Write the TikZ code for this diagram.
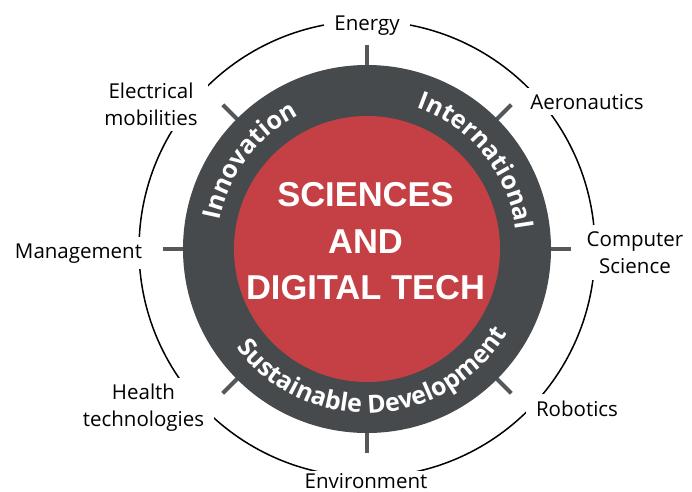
\documentclass[tikz,border=0pt]{standalone}
\usepackage{fontspec}
\setmainfont{Open Sans}
\newfontfamily\titlefont{Liberation Sans}
\usetikzlibrary{decorations.text}
\definecolor{ringgray}{RGB}{70,74,76}
\definecolor{tickgray}{RGB}{85,88,90}
\definecolor{corered}{RGB}{197,64,68}
\newcommand\ringtxt{\bfseries\fontsize{25pt}{25pt}\selectfont}
\begin{document}
\begin{tikzpicture}[x=1pt,y=1pt,
  topic/.style={fill=white, inner xsep=10pt, inner ysep=6pt, align=center,
    font=\fontsize{20.5pt}{27pt}\selectfont, text=black},
  tickline/.style={tickgray, line width=4pt},
  ringlabel/.style={decorate, decoration={text along path, text align=center, text color=white}}
]
\fill[white] (-367,-242) rectangle (325,249);
\useasboundingbox (-367,-242) rectangle (325,249);
\draw[black, line width=1.5pt] (0,0) circle[radius=228pt];
\foreach \a in {0,45,...,315} \draw[tickline] (\a:183pt) -- (\a:204pt);
\fill[ringgray] (0,0) circle[radius=184pt];
\fill[corered] (0,0) circle[radius=133pt];
\node[font=\titlefont\bfseries\fontsize{34.5pt}{46.5pt}\selectfont, text=white, align=center] (title) at (-1.5,7.5) {SCIENCES\\AND\\DIGITAL TECH};
\path[ringlabel, decoration={text={|\ringtxt|Innovation}}] (185:150pt) arc[start angle=185, end angle=101, radius=150pt];
\path[ringlabel, decoration={text={|\ringtxt|International}}] (91:150pt) arc[start angle=91, end angle=-13, radius=150pt];
\path[ringlabel, decoration={text={|\ringtxt|Sustainable Development}}] (-175:164pt) arc[start angle=-175, end angle=1, radius=164pt];
\node[topic, anchor=base] (energy) at (0,219) {Energy};
\node[topic, anchor=base] (aero) at (220,140) {Aeronautics};
\node[topic] (cs) at (268,-3.5) {Computer\\Science};
\node[topic, anchor=base] (robotics) at (210,-167) {Robotics};
\node[topic, anchor=base, inner ysep=2pt] (env) at (-1,-239) {Environment};
\node[topic] (health) at (-223.5,-158.5) {Health\\technologies};
\node[topic, anchor=base] (mgmt) at (-288.5,-9) {Management};
\node[topic] (elec) at (-216,145) {Electrical\\mobilities};
\end{tikzpicture}
\end{document}
